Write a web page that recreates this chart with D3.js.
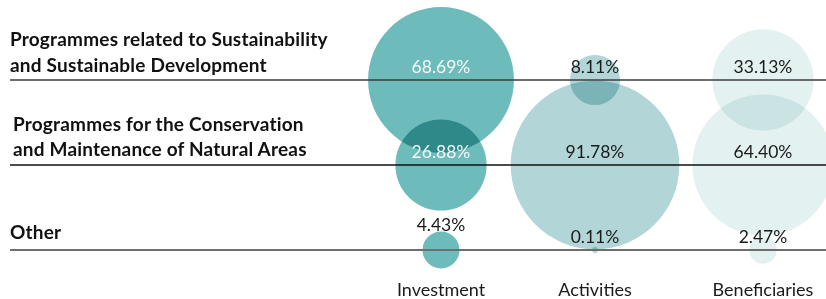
<!DOCTYPE html>
<html>
<head>
<meta charset="utf-8">
<script src="https://cdn.jsdelivr.net/npm/d3@7"></script>
<style>
  html, body { margin: 0; padding: 0; background: #fff; }
  svg { display: block; }
  .bubble { mix-blend-mode: multiply; }
</style>
</head>
<body>
<svg id="chart" width="826" height="299"></svg>
<script>
// ---- data ----
const categories = [
  "Programmes related to Sustainability|and Sustainable Development",
  "Programmes for the Conservation|and Maintenance of Natural Areas",
  "Other"
];
const metrics = ["Investment", "Activities", "Beneficiaries"];
const investment = [68.69, 26.88, 4.43];
const activities = [8.11, 91.78, 0.11];
const beneficiaries = [33.13, 64.40, 2.47];
const seriesValues = [investment, activities, beneficiaries];

// ---- layout ----
const svg = d3.select("#chart");
const W = 826;
const x = d3.scaleOrdinal().domain(metrics).range([441, 595, 763]);
const y = d3.scalePoint().domain(categories).range([80, 250]);
const r = d3.scaleSqrt().domain([0, 100]).range([0, 88]);
const color = d3.scaleOrdinal().domain(metrics).range(["#6dbbbb", "#b2d6d8", "#e4f1f1"]);
const lineColor = ["#3c3c3c", "#111111", "#6e6e6e"];
const lineWidth = [1.4, 1.4, 2];
const FONT = "Lato, 'Open Sans', sans-serif";

const cells = [];
metrics.forEach((m, mi) => {
  categories.forEach((c, ci) => {
    cells.push({ metric: m, mi, cat: c, ci, value: seriesValues[mi][ci] });
  });
});

// bubbles
svg.append("g").selectAll("circle")
  .data(cells)
  .join("circle")
  .attr("class", "bubble")
  .attr("cx", d => x(d.metric))
  .attr("cy", d => y(d.cat))
  .attr("r", d => r(d.value))
  .attr("fill", d => color(d.metric));

// row lines
svg.append("g").selectAll("line")
  .data(categories)
  .join("line")
  .attr("x1", 10).attr("x2", W)
  .attr("y1", d => y(d)).attr("y2", d => y(d))
  .attr("stroke", (d, i) => lineColor[i])
  .attr("stroke-width", (d, i) => lineWidth[i]);

// row labels
const rowOffsets = [[-34, -8], [-34, -9], [-11]];
const rowX = [10, 13, 10];
categories.forEach((c, i) => {
  const parts = c.split("|");
  const t = svg.append("text")
    .attr("font-family", FONT)
    .attr("font-weight", 700)
    .attr("font-size", 19)
    .attr("letter-spacing", 0.2)
    .attr("fill", "#111");
  parts.forEach((p, k) => {
    t.append("tspan")
      .attr("x", rowX[i])
      .attr("y", y(c) + rowOffsets[i][k])
      .text(p);
  });
});

// value labels
svg.append("g").selectAll("text")
  .data(cells)
  .join("text")
  .attr("text-anchor", "middle")
  .attr("font-family", FONT)
  .attr("font-weight", 400)
  .attr("font-size", 17.5)
  .attr("x", d => x(d.metric))
  .attr("y", d => {
    const rr = r(d.value);
    if (d.mi === 0 && rr < 30) return y(d.cat) - rr;
    return y(d.cat) - 7;
  })
  .attr("fill", d => (d.mi === 0 && r(d.value) >= 30) ? "#f4fbfb" : "#1a1a1a")
  .text(d => d.value.toFixed(2) + "%");

// column labels
svg.append("g").selectAll("text")
  .data(metrics)
  .join("text")
  .attr("text-anchor", "middle")
  .attr("font-family", FONT)
  .attr("font-size", 18)
  .attr("fill", "#1a1a1a")
  .attr("x", d => x(d))
  .attr("y", 296)
  .text(d => d);
</script>
</body>
</html>
